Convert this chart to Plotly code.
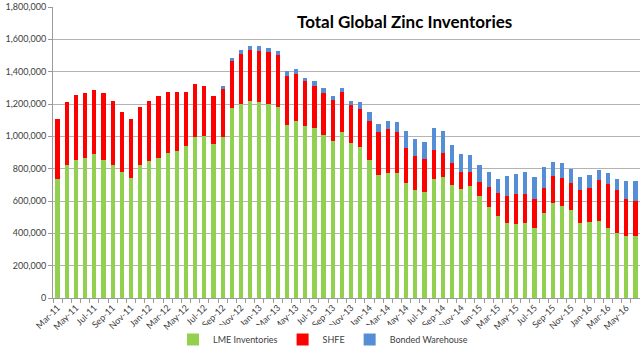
import plotly.graph_objects as go

months = [
    "Mar-11", "Apr-11", "May-11", "Jun-11", "Jul-11", "Aug-11", "Sep-11", "Oct-11", "Nov-11", "Dec-11",
    "Jan-12", "Feb-12", "Mar-12", "Apr-12", "May-12", "Jun-12", "Jul-12", "Aug-12", "Sep-12", "Oct-12",
    "Nov-12", "Dec-12", "Jan-13", "Feb-13", "Mar-13", "Apr-13", "May-13", "Jun-13", "Jul-13", "Aug-13",
    "Sep-13", "Oct-13", "Nov-13", "Dec-13", "Jan-14", "Feb-14", "Mar-14", "Apr-14", "May-14", "Jun-14",
    "Jul-14", "Aug-14", "Sep-14", "Oct-14", "Nov-14", "Dec-14", "Jan-15", "Feb-15", "Mar-15", "Apr-15",
    "May-15", "Jun-15", "Jul-15", "Aug-15", "Sep-15", "Oct-15", "Nov-15", "Dec-15", "Jan-16", "Feb-16",
    "Mar-16", "Apr-16", "May-16", "Jun-16",
]

lme = [
    735000, 822000, 856000, 866000, 888000, 856000, 822000, 779000, 741000, 822000,
    846000, 868000, 896000, 908000, 939000, 993000, 1005000, 953000, 997000, 1177000,
    1203000, 1221000, 1213000, 1199000, 1179000, 1070000, 1092000, 1064000, 1052000, 1009000,
    971000, 1028000, 961000, 931000, 852000, 760000, 776000, 776000, 712000, 668000,
    655000, 734000, 750000, 701000, 675000, 691000, 633000, 565000, 509000, 465000,
    457000, 465000, 434000, 523000, 586000, 570000, 546000, 465000, 471000, 479000,
    434000, 402000, 382000, 382000,
]

shfe_top = [
    1108000, 1213000, 1255000, 1265000, 1287000, 1269000, 1221000, 1152000, 1108000, 1182000,
    1217000, 1251000, 1273000, 1273000, 1277000, 1321000, 1310000, 1247000, 1294000, 1469000,
    1509000, 1531000, 1529000, 1521000, 1501000, 1372000, 1386000, 1340000, 1314000, 1267000,
    1223000, 1273000, 1196000, 1172000, 1097000, 1027000, 1045000, 1025000, 929000, 881000,
    858000, 915000, 900000, 838000, 782000, 780000, 716000, 688000, 651000, 630000,
    645000, 645000, 612000, 679000, 754000, 743000, 711000, 665000, 679000, 727000,
    707000, 665000, 612000, 602000,
]

total = [
    1108000, 1213000, 1255000, 1265000, 1287000, 1269000, 1221000, 1152000, 1108000, 1182000,
    1217000, 1251000, 1273000, 1273000, 1277000, 1321000, 1310000, 1247000, 1310000, 1485000,
    1531000, 1556000, 1556000, 1544000, 1525000, 1402000, 1415000, 1362000, 1340000, 1296000,
    1249000, 1301000, 1220000, 1210000, 1148000, 1075000, 1095000, 1091000, 1035000, 985000,
    965000, 1049000, 1031000, 947000, 888000, 884000, 822000, 777000, 737000, 754000,
    764000, 780000, 748000, 810000, 844000, 832000, 798000, 748000, 758000, 792000,
    772000, 735000, 723000, 721000,
]

shfe = [s - l for s, l in zip(shfe_top, lme)]
bonded = [t - s for t, s in zip(total, shfe_top)]

y_ticks = [0, 200000, 400000, 600000, 800000, 1000000, 1200000, 1400000, 1600000, 1800000]

x = list(range(len(months)))
font_family = "Lato, 'Open Sans', sans-serif"

fig = go.Figure()
fig.add_trace(go.Bar(x=x, y=lme, name="LME Inventories", marker_color="#92D050",
                     marker_line_width=0))
fig.add_trace(go.Bar(x=x, y=shfe, name="SHFE", marker_color="#FF0000",
                     marker_line_width=0))
fig.add_trace(go.Bar(x=x, y=bonded, name="Bonded Warehouse", marker_color="#558ED5",
                     marker_line_width=0))

fig.update_layout(
    barmode="stack",
    bargap=0.54,
    width=640,
    height=354,
    margin=dict(l=53, r=0, t=7, b=51.5),
    paper_bgcolor="white",
    plot_bgcolor="white",
    font=dict(family=font_family, size=9, color="#404040"),
    showlegend=True,
    legend=dict(
        orientation="h",
        traceorder="normal",
        x=0.46,
        xanchor="center",
        y=-0.144,
        yanchor="middle",
        font=dict(size=9, color="#404040"),
        itemwidth=30,
        tracegroupgap=0,
    ),
    annotations=[
        dict(
            text="<b>Total Global Zinc Inventories</b>",
            xref="paper", yref="paper",
            x=0.598, y=0.949,
            xanchor="center", yanchor="middle",
            showarrow=False,
            font=dict(size=17, color="black", family=font_family),
        )
    ],
)

fig.update_xaxes(
    range=[-0.5, len(months) - 0.5],
    tickmode="array",
    tickvals=x[::2],
    ticktext=months[::2],
    tickangle=-45,
    ticks="",
    showline=True,
    linecolor="#9A9A9A",
    linewidth=1,
    showgrid=False,
    zeroline=False,
    tickfont=dict(size=9, color="#404040"),
    minor=dict(
        tickmode="array",
        tickvals=[i - 0.5 for i in range(len(months) + 1)],
        ticks="outside",
        ticklen=4,
        tickcolor="#9A9A9A",
        showgrid=False,
    ),
)

fig.update_yaxes(
    range=[0, 1800000],
    tickmode="array",
    tickvals=y_ticks,
    tickformat=",d",
    ticks="outside",
    ticklen=4,
    tickcolor="#9A9A9A",
    showline=True,
    linecolor="#9A9A9A",
    linewidth=1,
    showgrid=True,
    gridcolor="#B4B4B4",
    gridwidth=1,
    zeroline=False,
    tickfont=dict(size=9, color="#404040"),
)

fig.write_html("out.html")
